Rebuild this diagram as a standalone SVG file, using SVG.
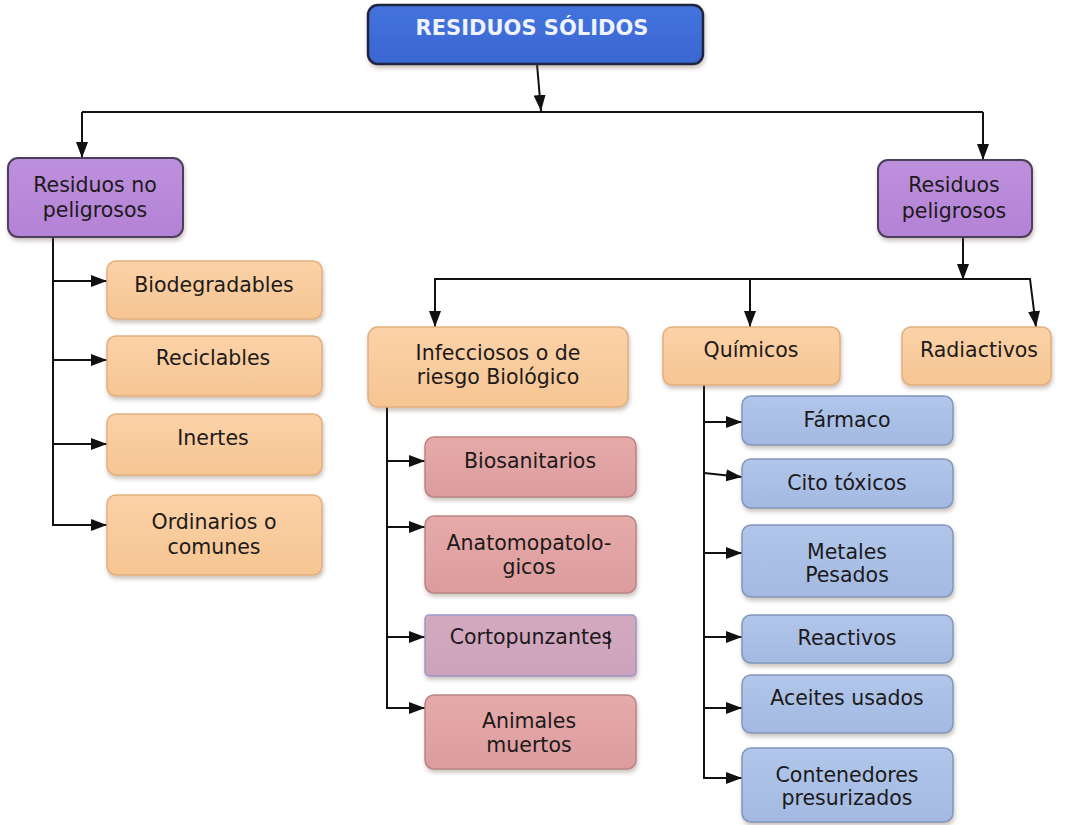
<svg xmlns="http://www.w3.org/2000/svg" width="1085" height="825" viewBox="0 0 1085 825">
<defs>
<style>
.t{font-family:"DejaVu Sans","Liberation Sans",sans-serif;font-size:20.5px;fill:#1c1a1a;text-anchor:middle}
.title{font-family:"DejaVu Sans","Liberation Sans",sans-serif;font-size:21px;font-weight:bold;fill:#eef3ff;text-anchor:middle}
.box{stroke-width:1.5;filter:url(#sh)}
.blue{fill:url(#gBlue);stroke:#1e2740;stroke-width:2.5}
.pur{fill:url(#gPur);stroke:#4c3f5c;stroke-width:2}
.org{fill:url(#gOrg);stroke:#e2b07e}
.red{fill:url(#gRed);stroke:#b98584}
.cor{fill:url(#gCor);stroke:#9c98cc}
.lb{fill:url(#gLb);stroke:#8297bc}
.ln{fill:none;stroke:#111;stroke-width:2}
.ar{fill:none;stroke:#111;stroke-width:2;marker-end:url(#ah)}
</style>
<marker id="ah" viewBox="0 0 16 12" refX="16" refY="6" markerWidth="16" markerHeight="12" markerUnits="userSpaceOnUse" orient="auto">
<path d="M0,0 L16,6 L0,12 z" fill="#111"/>
</marker>
<filter id="sh" x="-10%" y="-10%" width="120%" height="130%">
<feDropShadow dx="1" dy="3" stdDeviation="2" flood-color="#6b5040" flood-opacity="0.35"/>
</filter>
<linearGradient id="gBlue" x1="0" y1="0" x2="0" y2="1"><stop offset="0" stop-color="#4473dc"/><stop offset="1" stop-color="#3a66d2"/></linearGradient>
<linearGradient id="gPur" x1="0" y1="0" x2="0" y2="1"><stop offset="0" stop-color="#bd90dc"/><stop offset="1" stop-color="#b482d6"/></linearGradient>
<linearGradient id="gOrg" x1="0" y1="0" x2="0" y2="1"><stop offset="0" stop-color="#fbd2a8"/><stop offset="1" stop-color="#f6c592"/></linearGradient>
<linearGradient id="gRed" x1="0" y1="0" x2="0" y2="1"><stop offset="0" stop-color="#e6aaa9"/><stop offset="1" stop-color="#dc9c9d"/></linearGradient>
<linearGradient id="gCor" x1="0" y1="0" x2="0" y2="1"><stop offset="0" stop-color="#d4a9c0"/><stop offset="1" stop-color="#cca3bb"/></linearGradient>
<linearGradient id="gLb" x1="0" y1="0" x2="0" y2="1"><stop offset="0" stop-color="#b1c6ea"/><stop offset="1" stop-color="#a3b9e1"/></linearGradient>
</defs>
<rect width="1085" height="825" fill="#ffffff"/>

<g id="connectors">
<line class="ar" x1="537" y1="64" x2="541" y2="111"/>
<line class="ln" x1="82" y1="112" x2="983" y2="112"/>
<line class="ar" x1="82" y1="112" x2="82" y2="158"/>
<line class="ar" x1="983" y1="112" x2="983" y2="160"/>
<line class="ln" x1="53" y1="237" x2="53" y2="526"/>
<line class="ar" x1="53" y1="281" x2="107" y2="281"/>
<line class="ar" x1="53" y1="360" x2="107" y2="360"/>
<line class="ar" x1="53" y1="444" x2="107" y2="444"/>
<line class="ar" x1="53" y1="525" x2="107" y2="525"/>
<line class="ar" x1="963" y1="237" x2="963" y2="280"/>
<line class="ln" x1="434" y1="279" x2="1031" y2="279"/>
<line class="ar" x1="435" y1="279" x2="435" y2="327"/>
<line class="ar" x1="750" y1="279" x2="750" y2="327"/>
<line class="ar" x1="1030" y1="279" x2="1036" y2="327"/>
<line class="ln" x1="387" y1="407" x2="387" y2="709"/>
<line class="ar" x1="387" y1="461" x2="425" y2="461"/>
<line class="ar" x1="387" y1="527" x2="425" y2="527"/>
<line class="ar" x1="387" y1="637" x2="425" y2="637"/>
<line class="ar" x1="387" y1="708" x2="425" y2="708"/>
<line class="ln" x1="704" y1="385" x2="704" y2="779"/>
<line class="ar" x1="704" y1="422" x2="742" y2="422"/>
<line class="ar" x1="704" y1="473" x2="742" y2="477"/>
<line class="ar" x1="704" y1="553" x2="742" y2="553"/>
<line class="ar" x1="704" y1="637" x2="742" y2="637"/>
<line class="ar" x1="704" y1="708" x2="742" y2="708"/>
<line class="ar" x1="704" y1="778" x2="742" y2="778"/>
</g>

<g id="n-residuos-solidos">
<rect class="box blue" x="368" y="5" width="335" height="59" rx="10"/>
<text class="title" x="532" y="35">RESIDUOS SÓLIDOS</text>
</g>
<g id="n-no-peligrosos">
<rect class="box pur" x="8" y="158" width="175" height="79" rx="10"/>
<text class="t" x="95" y="192">Residuos no</text>
<text class="t" x="95" y="217">peligrosos</text>
</g>
<g id="n-peligrosos">
<rect class="box pur" x="878" y="160" width="154" height="77" rx="10"/>
<text class="t" x="954" y="192">Residuos</text>
<text class="t" x="954" y="218">peligrosos</text>
</g>
<g id="n-biodegradables">
<rect class="box org" x="107" y="261" width="215" height="58" rx="9"/>
<text class="t" x="214" y="292">Biodegradables</text>
</g>
<g id="n-reciclables">
<rect class="box org" x="107" y="336" width="215" height="60" rx="9"/>
<text class="t" x="213" y="365">Reciclables</text>
</g>
<g id="n-inertes">
<rect class="box org" x="107" y="414" width="215" height="61" rx="9"/>
<text class="t" x="213" y="445">Inertes</text>
</g>
<g id="n-ordinarios">
<rect class="box org" x="107" y="495" width="215" height="80" rx="9"/>
<text class="t" x="214" y="529">Ordinarios o</text>
<text class="t" x="214" y="554">comunes</text>
</g>
<g id="n-infecciosos">
<rect class="box org" x="368" y="327" width="260" height="80" rx="10"/>
<text class="t" x="498" y="360">Infecciosos o de</text>
<text class="t" x="498" y="384">riesgo Biológico</text>
</g>
<g id="n-quimicos">
<rect class="box org" x="663" y="327" width="177" height="58" rx="9"/>
<text class="t" x="751" y="357">Químicos</text>
</g>
<g id="n-radiactivos">
<rect class="box org" x="902" y="327" width="149" height="58" rx="9"/>
<text class="t" x="979" y="357">Radiactivos</text>
</g>
<g id="n-biosanitarios">
<rect class="box red" x="425" y="437" width="211" height="60" rx="9"/>
<text class="t" x="530" y="468">Biosanitarios</text>
</g>
<g id="n-anatomopatologicos">
<rect class="box red" x="425" y="516" width="211" height="77" rx="9"/>
<text class="t" x="529" y="550">Anatomopatolo-</text>
<text class="t" x="529" y="574">gicos</text>
</g>
<g id="n-cortopunzantes">
<rect class="box cor" x="425" y="615" width="211" height="61" rx="4"/>
<text class="t" x="531" y="644">Cortopunzantes</text>
<line x1="609" y1="631" x2="609" y2="649" stroke="#111" stroke-width="1.5"/>
</g>
<g id="n-animales">
<rect class="box red" x="425" y="695" width="211" height="74" rx="9"/>
<text class="t" x="529" y="728">Animales</text>
<text class="t" x="529" y="752">muertos</text>
</g>
<g id="n-farmaco">
<rect class="box lb" x="742" y="396" width="211" height="49" rx="9"/>
<text class="t" x="847" y="427">Fármaco</text>
</g>
<g id="n-citotoxicos">
<rect class="box lb" x="742" y="459" width="211" height="49" rx="9"/>
<text class="t" x="847" y="490">Cito tóxicos</text>
</g>
<g id="n-metales">
<rect class="box lb" x="742" y="525" width="211" height="72" rx="9"/>
<text class="t" x="847" y="559">Metales</text>
<text class="t" x="847" y="582">Pesados</text>
</g>
<g id="n-reactivos">
<rect class="box lb" x="742" y="615" width="211" height="48" rx="9"/>
<text class="t" x="847" y="645">Reactivos</text>
</g>
<g id="n-aceites">
<rect class="box lb" x="742" y="675" width="211" height="58" rx="9"/>
<text class="t" x="847" y="705">Aceites usados</text>
</g>
<g id="n-contenedores">
<rect class="box lb" x="742" y="748" width="211" height="74" rx="9"/>
<text class="t" x="847" y="782">Contenedores</text>
<text class="t" x="847" y="805">presurizados</text>
</g>
</svg>
